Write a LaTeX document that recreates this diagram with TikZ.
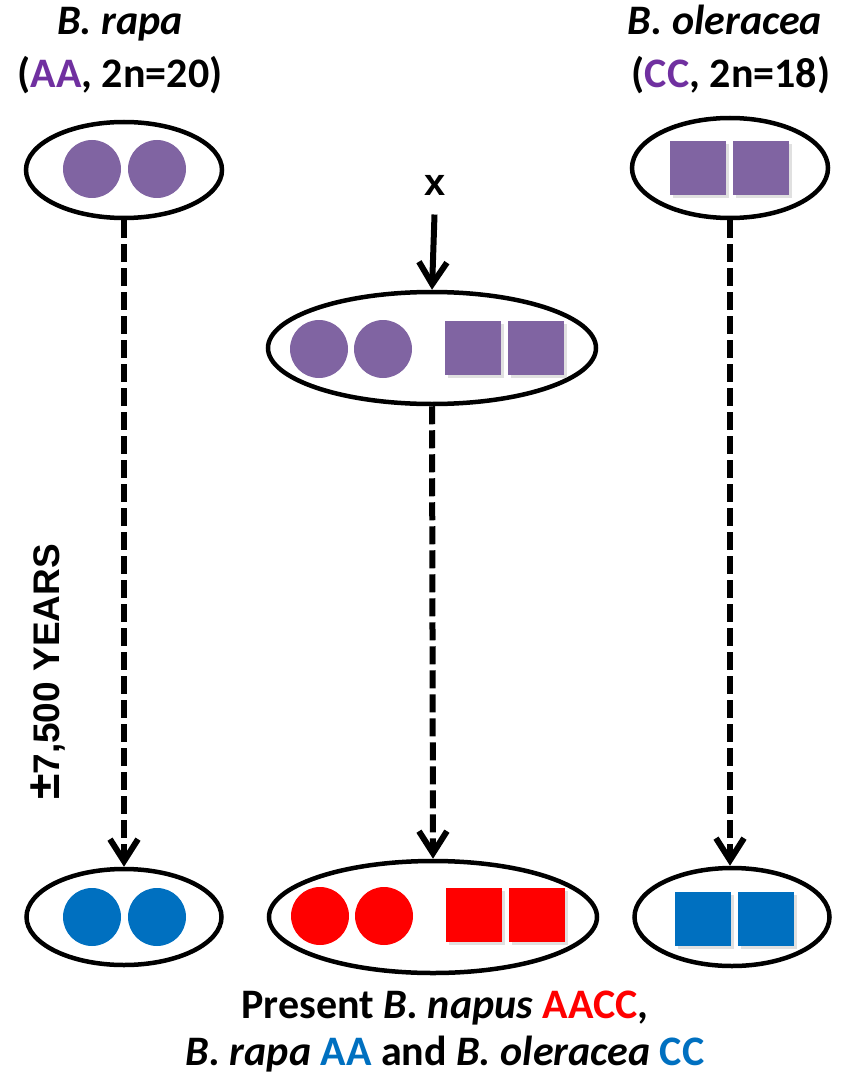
\documentclass[tikz,border=0pt]{standalone}
\usepackage{fontspec}
\setmainfont{Carlito}
\newfontfamily\arialfont{Liberation Sans}
\usetikzlibrary{arrows.meta, shapes.geometric, shadows}
\definecolor{genpurple}{RGB}{128,100,162}
\definecolor{txtpurple}{RGB}{112,48,160}
\definecolor{nowblue}{RGB}{0,112,192}
\definecolor{nowred}{RGB}{255,0,0}

\tikzset{
	cell/.style={draw, ellipse, line width=4.5pt, inner sep=0pt},
	chrA/.style={circle, minimum size=58pt, inner sep=0pt},
	chrC/.style={rectangle, minimum width=56pt, minimum height=54pt, inner sep=0pt,
		drop shadow={shadow xshift=3pt, shadow yshift=-3pt, fill=black!40, opacity=0.3}},
	lbl/.style={font=\fontsize{42}{48}\selectfont\bfseries, anchor=base},
	descent/.style={dash pattern=on 18pt off 6pt, line width=6pt, -{Straight Barb[length=22pt,width=28pt]}},
	cross/.style={line width=6pt, -{Straight Barb[length=22pt,width=28pt]}},
}

\begin{document}
\begin{tikzpicture}[x=1pt, y=-1pt, line cap=butt, line join=miter]
	\useasboundingbox (0,0) rectangle (842,1075);

	% parent species
	\node[lbl] (rapa) at (120,35) {\textit{B. rapa}};
	\node[lbl] (rapagen) at (120,88) {(\textcolor{txtpurple}{AA}, 2n=20)};
	\node[lbl] (oler) at (725,35) {\textit{B. oleracea}};
	\node[lbl] (olergen) at (731,88) {(\textcolor{txtpurple}{CC}, 2n=18)};

	% ancestral genomes
	\node[cell, minimum width=196pt, minimum height=96pt] (oldA) at (124,170) {};
	\node[chrA, fill=genpurple] (oldA1) at (92,169) {};
	\node[chrA, fill=genpurple] (oldA2) at (157,169) {};

	\node[cell, minimum width=196pt, minimum height=100pt] (oldC) at (730,168) {};
	\node[chrC, fill=genpurple] (oldC1) at (698,168.5) {};
	\node[chrC, fill=genpurple] (oldC2) at (761,168.5) {};

	% the cross
	\node[font=\arialfont\bfseries\fontsize{38}{40}\selectfont, anchor=base] (xmark) at (435,196) {x};
	\node[cell, minimum width=328pt, minimum height=112pt] (hyb) at (432,348) {};
	\node[chrA, fill=genpurple] (hybA1) at (319,349) {};
	\node[chrA, fill=genpurple] (hybA2) at (383,349) {};
	\node[chrC, fill=genpurple] (hybC1) at (473,348) {};
	\node[chrC, fill=genpurple] (hybC2) at (536,348) {};
	\draw[cross, shorten <=15pt] (xmark.south) -- (hyb.north);

	% present genomes
	\node[cell, minimum width=195pt, minimum height=96pt] (nowA) at (124,917) {};
	\node[chrA, fill=nowblue] (nowA1) at (92,917) {};
	\node[chrA, fill=nowblue] (nowA2) at (157,917) {};

	\node[cell, minimum width=328pt, minimum height=112pt] (nowAC) at (433,917) {};
	\node[chrA, fill=nowred] (nowAC1) at (320,916) {};
	\node[chrA, fill=nowred] (nowAC2) at (384,916) {};
	\node[chrC, fill=nowred] (nowAC3) at (474,915) {};
	\node[chrC, fill=nowred] (nowAC4) at (537,915) {};

	\node[cell, minimum width=195pt, minimum height=98pt] (nowC) at (732,917) {};
	\node[chrC, fill=nowblue] (nowC1) at (703,919) {};
	\node[chrC, fill=nowblue] (nowC2) at (766,919) {};

	% time lines
	\draw[descent] (oldA.south) -- (nowA.north);
	\draw[descent] (hyb.south) -- (nowAC.north);
	\draw[descent] (oldC.south) -- (oldC.south |- nowC.north);
	\node[rotate=90, font=\arialfont\bfseries\fontsize{37}{40}\selectfont] (span) at (48,672) {\scalebox{1.25}{±}7,500 YEARS};

	% caption
	\node[lbl] (cap1) at (445,1018) {Present \textit{B. napus} \textcolor{nowred}{AACC},};
	\node[lbl] (cap2) at (445,1065) {\textit{B. rapa} \textcolor{nowblue}{AA} and \textit{B. oleracea} \textcolor{nowblue}{CC}};
\end{tikzpicture}
\end{document}
